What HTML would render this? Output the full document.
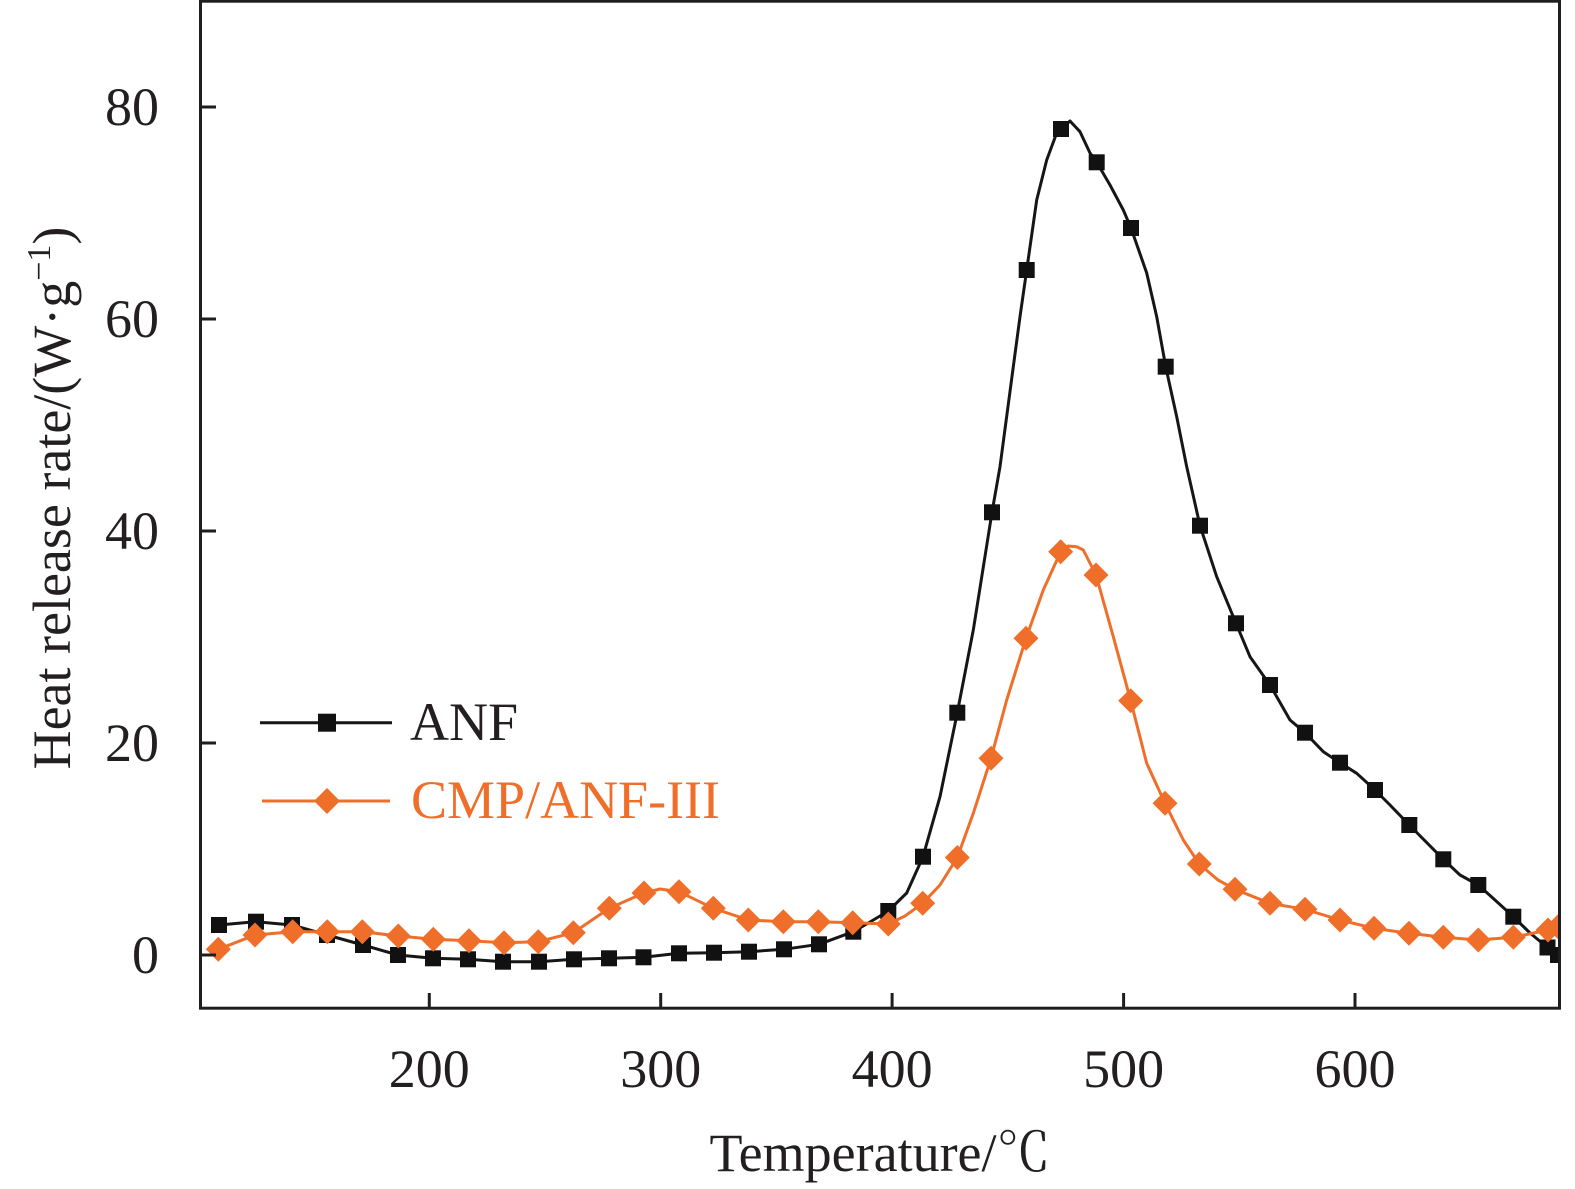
<!DOCTYPE html>
<html>
<head>
<meta charset="utf-8">
<style>
  html,body{margin:0;padding:0;background:#fff;}
  svg{display:block;}
  text{font-family:"Liberation Serif","Noto Serif CJK SC",serif;fill:#231f20;}
</style>
</head>
<body>
<svg width="1575" height="1189" viewBox="0 0 1575 1189" xmlns="http://www.w3.org/2000/svg">
  <defs>
    <clipPath id="plot"><rect x="201.5" y="2" width="1357" height="1005"/></clipPath>
    <rect id="sq" x="-8" y="-8" width="16" height="16" fill="#111"/>
    <path id="dm" d="M0,-12.5 L12.5,0 L0,12.5 L-12.5,0Z" fill="#EF6F2A"/>
  </defs>

  <!-- series -->
  <g clip-path="url(#plot)">
    <polyline fill="none" stroke="#161616" stroke-width="3" stroke-linejoin="round"
      points="219,925 256,921.7 292,925 327,935 363,945 398,955 433,958.3 468,959.3 503,961.7 539,961.7 574,959.3 609,958.3 643.5,957.3 679,953.3 714,952.7 749,951.7 784,949.3 819,944.3 853.3,931.7 870,922 888.3,911 906.7,893 923,856.7 940,796.7 957.3,712.7 973.3,630 992,512.3 1000,466.7 1013.3,366.7 1020,316.7 1026.7,270 1036.7,200 1046.7,160 1056.7,133 1061,129 1070,121 1080,131.7 1090,153 1096.7,162.3 1110,185 1123.3,210 1131,228 1146.7,273 1156.7,316.7 1165.7,366.7 1176.7,416.7 1186.7,466.7 1200,525.7 1216.7,576.7 1236,623.3 1250,656.7 1270,685 1290,720 1305,732.7 1323.3,751.7 1340,762.7 1356.7,773.3 1375,790 1390,805 1409.3,825 1443.3,859.3 1460,875 1478.3,885 1495,900 1513.3,916.7 1530,933 1547.5,947.5 1558,955 1562,958"/>
    <g>
      <use href="#sq" x="219" y="925"/><use href="#sq" x="256" y="921.7"/><use href="#sq" x="292" y="925"/><use href="#sq" x="327" y="935"/>
      <use href="#sq" x="363" y="945"/><use href="#sq" x="398" y="955"/><use href="#sq" x="433" y="958.3"/><use href="#sq" x="468" y="959.3"/>
      <use href="#sq" x="503" y="961.7"/><use href="#sq" x="539" y="961.7"/><use href="#sq" x="574" y="959.3"/><use href="#sq" x="609" y="958.3"/>
      <use href="#sq" x="643.5" y="957.3"/><use href="#sq" x="679" y="953.3"/><use href="#sq" x="714" y="952.7"/><use href="#sq" x="749" y="951.7"/>
      <use href="#sq" x="784" y="949.3"/><use href="#sq" x="819" y="944.3"/><use href="#sq" x="853.3" y="931.7"/><use href="#sq" x="888.3" y="911"/>
      <use href="#sq" x="923" y="856.7"/><use href="#sq" x="957.3" y="712.7"/><use href="#sq" x="992" y="512.3"/><use href="#sq" x="1026.7" y="270"/>
      <use href="#sq" x="1061" y="129"/><use href="#sq" x="1096.7" y="162.3"/><use href="#sq" x="1131" y="228"/><use href="#sq" x="1165.7" y="366.7"/>
      <use href="#sq" x="1200" y="525.7"/><use href="#sq" x="1236" y="623.3"/><use href="#sq" x="1270" y="685"/><use href="#sq" x="1305" y="732.7"/>
      <use href="#sq" x="1340" y="762.7"/><use href="#sq" x="1375" y="790"/><use href="#sq" x="1409.3" y="825"/><use href="#sq" x="1443.3" y="859.3"/>
      <use href="#sq" x="1478.3" y="885"/><use href="#sq" x="1513.3" y="916.7"/><use href="#sq" x="1547.5" y="947.5"/><use href="#sq" x="1558" y="955"/>
    </g>

    <polyline fill="none" stroke="#EF6F2A" stroke-width="3" stroke-linejoin="round"
      points="218.3,949.3 255,935 292.7,931.7 327.3,931.7 362.3,931.7 398.3,936 433.3,939.3 469,940.7 504,942.7 538.3,941.7 573.3,932.7 609.3,908.3 644,893 660,889 679,891.7 713.3,908.3 748.3,920 783.3,921.7 818.3,921.7 852.7,922.7 888.3,924 905,916 922.7,903.3 940,885 957.3,857.5 973.3,813.3 991,758.3 1006.7,700 1026,638.3 1043.3,590 1060.7,551.7 1068,546 1076.7,546.7 1083.3,550 1096,575 1113.3,636.7 1130.7,700.7 1146.7,763.3 1165,803.3 1183.3,840 1199.3,864 1218,880 1235,889.3 1270,903.3 1305,909.3 1340,920 1374,928.3 1409,933.3 1443.3,937.3 1478.3,940 1513.3,937.3 1548,930 1558,926.7 1562,925.5"/>
    <g>
      <use href="#dm" x="218.3" y="949.3"/><use href="#dm" x="255" y="935"/><use href="#dm" x="292.7" y="931.7"/><use href="#dm" x="327.3" y="931.7"/>
      <use href="#dm" x="362.3" y="931.7"/><use href="#dm" x="398.3" y="936"/><use href="#dm" x="433.3" y="939.3"/><use href="#dm" x="469" y="940.7"/>
      <use href="#dm" x="504" y="942.7"/><use href="#dm" x="538.3" y="941.7"/><use href="#dm" x="573.3" y="932.7"/><use href="#dm" x="609.3" y="908.3"/>
      <use href="#dm" x="644" y="893"/><use href="#dm" x="679" y="891.7"/><use href="#dm" x="713.3" y="908.3"/><use href="#dm" x="748.3" y="920"/>
      <use href="#dm" x="783.3" y="921.7"/><use href="#dm" x="818.3" y="921.7"/><use href="#dm" x="852.7" y="922.7"/><use href="#dm" x="888.3" y="924"/>
      <use href="#dm" x="922.7" y="903.3"/><use href="#dm" x="957.3" y="857.5"/><use href="#dm" x="991" y="758.3"/><use href="#dm" x="1026" y="638.3"/>
      <use href="#dm" x="1060.7" y="551.7"/><use href="#dm" x="1096" y="575"/><use href="#dm" x="1130.7" y="700.7"/><use href="#dm" x="1165" y="803.3"/>
      <use href="#dm" x="1199.3" y="864"/><use href="#dm" x="1235" y="889.3"/><use href="#dm" x="1270" y="903.3"/><use href="#dm" x="1305" y="909.3"/>
      <use href="#dm" x="1340" y="920"/><use href="#dm" x="1374" y="928.3"/><use href="#dm" x="1409" y="933.3"/><use href="#dm" x="1443.3" y="937.3"/>
      <use href="#dm" x="1478.3" y="940"/><use href="#dm" x="1513.3" y="937.3"/><use href="#dm" x="1548" y="930"/><use href="#dm" x="1558" y="926.7"/>
    </g>
  </g>

  <!-- axes frame -->
  <rect x="200.5" y="1.2" width="1359" height="1007" fill="none" stroke="#1e1e1e" stroke-width="3"/>

  <!-- ticks -->
  <g stroke="#1e1e1e" stroke-width="3">
    <line x1="202" y1="955" x2="216" y2="955"/>
    <line x1="202" y1="743" x2="216" y2="743"/>
    <line x1="202" y1="531" x2="216" y2="531"/>
    <line x1="202" y1="319" x2="216" y2="319"/>
    <line x1="202" y1="107" x2="216" y2="107"/>
    <line x1="429.3" y1="1007" x2="429.3" y2="993"/>
    <line x1="660.7" y1="1007" x2="660.7" y2="993"/>
    <line x1="892.1" y1="1007" x2="892.1" y2="993"/>
    <line x1="1123.6" y1="1007" x2="1123.6" y2="993"/>
    <line x1="1355" y1="1007" x2="1355" y2="993"/>
  </g>

  <!-- y tick labels -->
  <g font-size="54" text-anchor="end">
    <text x="159" y="973">0</text>
    <text x="159" y="761">20</text>
    <text x="159" y="549">40</text>
    <text x="159" y="337">60</text>
    <text x="159" y="125">80</text>
  </g>
  <!-- x tick labels -->
  <g font-size="54" text-anchor="middle">
    <text x="429.3" y="1087">200</text>
    <text x="660.7" y="1087">300</text>
    <text x="892.1" y="1087">400</text>
    <text x="1123.6" y="1087">500</text>
    <text x="1355" y="1087">600</text>
  </g>

  <!-- axis titles -->
  <text x="880" y="1171" font-size="54" text-anchor="middle">Temperature/℃</text>
  <text transform="translate(70,498) rotate(-90)" font-size="54" text-anchor="middle">Heat release rate/(W·g<tspan font-size="34" dy="-20">−1</tspan><tspan dy="20">)</tspan></text>

  <!-- legend -->
  <line x1="260" y1="722.7" x2="392" y2="722.7" stroke="#161616" stroke-width="3"/>
  <rect x="318" y="713.7" width="18" height="18" fill="#111"/>
  <text x="410" y="740" font-size="54">ANF</text>

  <line x1="262" y1="801" x2="390" y2="801" stroke="#EF6F2A" stroke-width="3"/>
  <path d="M327,788 L340,801 L327,814 L314,801Z" fill="#EF6F2A"/>
  <text x="411" y="818" font-size="54" style="fill:#EF6F2A">CMP/ANF-III</text>
</svg>
</body>
</html>
